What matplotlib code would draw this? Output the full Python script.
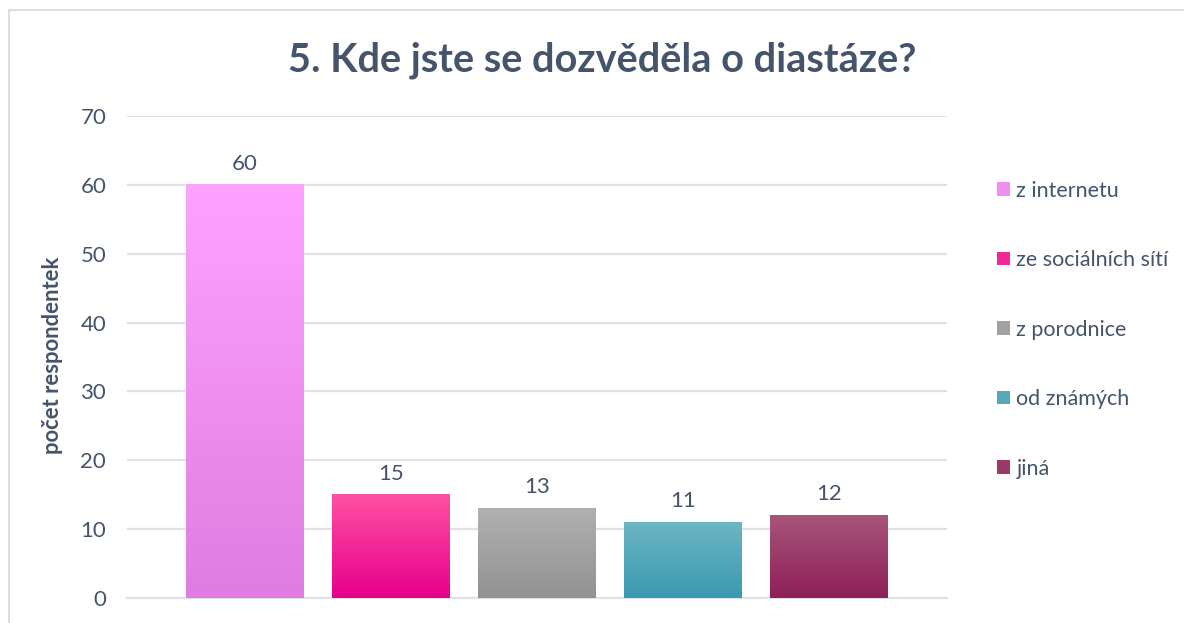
import matplotlib
matplotlib.use("Agg")
import matplotlib.pyplot as plt
import numpy as np
from matplotlib.colors import LinearSegmentedColormap
from matplotlib.patches import Rectangle

plt.rcParams['font.family'] = ['Lato', 'DejaVu Sans']

title = "5. Kde jste se dozvěděla o diastáze?"
ylabel = "počet respondentek"
categories = ["z internetu", "ze sociálních sítí", "z porodnice", "od známých", "jiná"]
values = [60, 15, 13, 11, 12]
yticks = [0, 10, 20, 30, 40, 50, 60, 70]
top_colors = ["#FFA2FF", "#FF50A2", "#B0B0B0", "#6CB5C4", "#A8557A"]
bottom_colors = ["#E07CE0", "#E6008C", "#929292", "#3A9AB0", "#8E1F58"]

TEXT = "#44546A"
GRID = "#DDE2E9"

fig = plt.figure(figsize=(11.84, 6.23), dpi=100)
ax = fig.add_axes([0.1073, 0.0401, 0.6925, 0.7737])

x = np.arange(len(categories))
width = 0.808
bars = ax.bar(x, values, width=width, color=bottom_colors, zorder=2, linewidth=0)

for b, ct, cb in zip(bars, top_colors, bottom_colors):
    cmap = LinearSegmentedColormap.from_list("g", [cb, ct])
    grad = np.linspace(0, 1, 256).reshape(-1, 1)
    x0 = b.get_x()
    ax.imshow(grad, cmap=cmap, origin="lower", aspect="auto",
              extent=[x0, x0 + b.get_width(), 0, b.get_height()], zorder=3,
              interpolation="bilinear")

for xi, v in zip(x, values):
    ax.annotate(str(v), (xi, v), xytext=(0, 8), textcoords="offset points",
                ha="center", va="bottom", fontsize=16, color=TEXT)

ax.set_xlim(-0.808, len(categories) - 1 + 0.808)
ax.set_ylim(0, 70)
ax.set_yticks(yticks)
ax.set_xticks([])
ax.tick_params(axis="y", length=0, pad=15, labelsize=16, labelcolor=TEXT)
ax.grid(axis="y", color=GRID, linewidth=1.6, zorder=0)
ax.set_axisbelow(True)
for s in ["top", "right", "left"]:
    ax.spines[s].set_visible(False)
ax.spines["bottom"].set_color(GRID)
ax.spines["bottom"].set_linewidth(1.6)

fig.text(0.044, 0.43, ylabel, rotation=90, ha="center", va="center",
         fontsize=15.8, fontweight="bold", color=TEXT)
fig.text(0.509, 0.904, title, ha="center", va="center", fontsize=28.6,
         fontweight="bold", color=TEXT)

handles = []
for ct, cb in zip(top_colors, bottom_colors):
    mid = LinearSegmentedColormap.from_list("m", [cb, ct])(0.5)
    handles.append(Rectangle((0, 0), 1, 1, facecolor=mid, edgecolor="none"))
leg = fig.legend(handles, categories, loc="upper left", bbox_to_anchor=(0.8345, 0.724),
                 frameon=False, fontsize=15.5, labelspacing=2.3, handlelength=0.62,
                 handleheight=0.62, handletextpad=0.3, borderaxespad=0)
for t in leg.get_texts():
    t.set_color(TEXT)

border = Rectangle((9 / 1184, -0.2), 1.2, 1 - 10 / 623 + 0.2, transform=fig.transFigure,
                   fill=False, edgecolor="#D9DEE5", linewidth=1.5)
fig.add_artist(border)

fig.savefig("out.png", dpi=100)
